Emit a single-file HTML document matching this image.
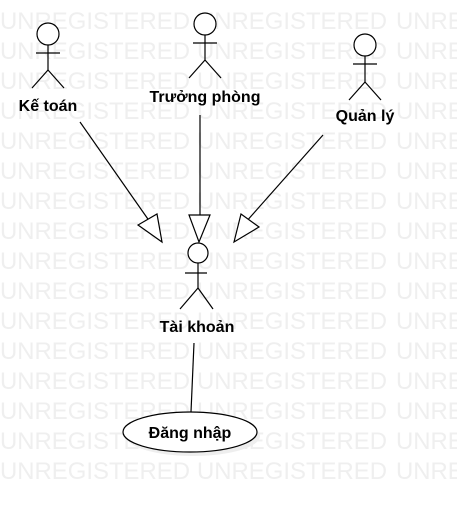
<!DOCTYPE html>
<html><head><meta charset="utf-8"><style>
body{margin:0;background:#fff;width:457px;height:505px;overflow:hidden}
svg{display:block}
.wm{font-family:"Liberation Sans",sans-serif;font-size:24px;fill:#efefef}
.lb{font-family:"Liberation Sans",sans-serif;font-size:16px;font-weight:bold;fill:#000}
</style></head><body>
<svg width="457" height="505" viewBox="0 0 457 505">
<defs><g id="r"><text x="0" y="0" textLength="190" lengthAdjust="spacingAndGlyphs">UNREGISTERED</text><text x="197" y="0" textLength="190" lengthAdjust="spacingAndGlyphs">UNREGISTERED</text><text x="396" y="0" textLength="190" lengthAdjust="spacingAndGlyphs">UNREGISTERED</text></g></defs>
<g class="wm">
<use href="#r" y="29"/><use href="#r" y="59"/><use href="#r" y="89"/><use href="#r" y="119"/>
<use href="#r" y="149"/><use href="#r" y="179"/><use href="#r" y="209"/><use href="#r" y="239"/>
<use href="#r" y="269"/><use href="#r" y="299"/><use href="#r" y="329"/><use href="#r" y="359"/>
<use href="#r" y="389"/><use href="#r" y="419"/><use href="#r" y="449"/><use href="#r" y="479"/>
</g>
<g stroke="#000" stroke-width="1.2" fill="#fff">
<circle cx="48" cy="34" r="11"/>
<line x1="48" y1="45" x2="48" y2="70"/><line x1="36" y1="53" x2="60" y2="53"/>
<line x1="48" y1="70" x2="32" y2="88"/><line x1="48" y1="70" x2="64" y2="88"/>
<circle cx="205" cy="24" r="11"/>
<line x1="205" y1="35" x2="205" y2="60"/><line x1="193" y1="43" x2="217" y2="43"/>
<line x1="205" y1="60" x2="189" y2="78"/><line x1="205" y1="60" x2="221" y2="78"/>
<circle cx="365" cy="45" r="11"/>
<line x1="365" y1="56" x2="365" y2="82"/><line x1="353" y1="64" x2="377" y2="64"/>
<line x1="365" y1="82" x2="349" y2="100"/><line x1="365" y1="82" x2="381" y2="100"/>
<circle cx="198" cy="253" r="10"/>
<line x1="198" y1="263" x2="198" y2="288"/><line x1="185" y1="273" x2="207" y2="273"/>
<line x1="198" y1="288" x2="180" y2="309"/><line x1="198" y1="288" x2="213" y2="309"/>
<line x1="80" y1="122" x2="150" y2="222"/>
<polygon points="138,225 162,242 157,214"/>
<line x1="200" y1="115" x2="200" y2="215"/>
<polygon points="189,215 210,215 199,242"/>
<line x1="323" y1="135" x2="245" y2="223"/>
<polygon points="234,242 259,227 241,214"/>
<line x1="194" y1="343" x2="191" y2="412"/>
</g>
<ellipse cx="193" cy="436" rx="67" ry="20" fill="#eee" stroke="none"/>
<ellipse cx="190" cy="432" rx="67" ry="20" fill="#fff" stroke="#000" stroke-width="1.2"/>
<g class="lb" text-anchor="middle">
<text x="48" y="111">Kế toán</text>
<text x="205" y="102">Trưởng phòng</text>
<text x="365" y="121">Quản lý</text>
<text x="197" y="332">Tài khoản</text>
<text x="190" y="438">Đăng nhập</text>
</g>
</svg>
</body></html>
